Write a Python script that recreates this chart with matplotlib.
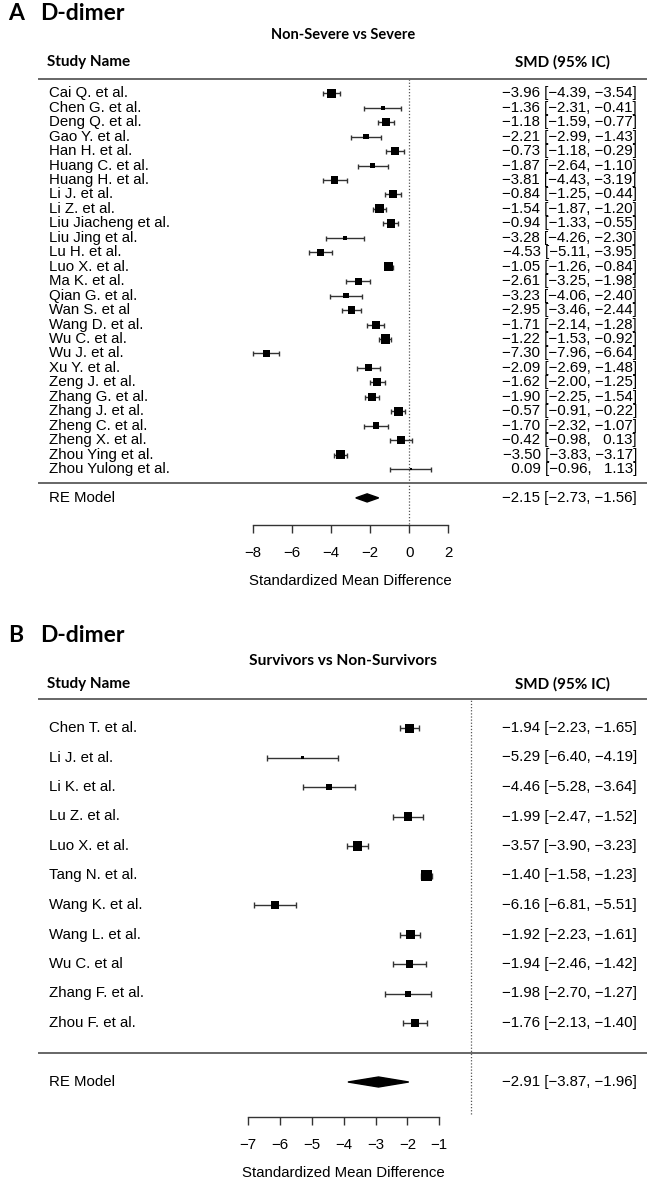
import matplotlib
matplotlib.use('Agg')
import matplotlib.pyplot as plt
from matplotlib.transforms import blended_transform_factory
import numpy as np

# ---- panel A: non-severe vs severe ----
names_a = ['Cai Q. et al.', 'Chen G. et al.', 'Deng Q. et al.', 'Gao Y. et al.',
           'Han H. et al.', 'Huang C. et al.', 'Huang H. et al.', 'Li J. et al.',
           'Li Z. et al.', 'Liu Jiacheng et al.', 'Liu Jing et al.', 'Lu H. et al.',
           'Luo X. et al.', 'Ma K. et al.', 'Qian G. et al.', 'Wan S. et al',
           'Wang D. et al.', 'Wu C. et al.', 'Wu J. et al.', 'Xu Y. et al.',
           'Zeng J. et al.', 'Zhang G. et al.', 'Zhang J. et al.', 'Zheng C. et al.',
           'Zheng X. et al.', 'Zhou Ying et al.', 'Zhou Yulong et al.']
smd_a = [-3.96, -1.36, -1.18, -2.21, -0.73, -1.87, -3.81, -0.84, -1.54, -0.94,
         -3.28, -4.53, -1.05, -2.61, -3.23, -2.95, -1.71, -1.22, -7.30, -2.09,
         -1.62, -1.90, -0.57, -1.70, -0.42, -3.50, 0.09]
lo_a = [-4.39, -2.31, -1.59, -2.99, -1.18, -2.64, -4.43, -1.25, -1.87, -1.33,
        -4.26, -5.11, -1.26, -3.25, -4.06, -3.46, -2.14, -1.53, -7.96, -2.69,
        -2.00, -2.25, -0.91, -2.32, -0.98, -3.83, -0.96]
hi_a = [-3.54, -0.41, -0.77, -1.43, -0.29, -1.10, -3.19, -0.44, -1.20, -0.55,
        -2.30, -3.95, -0.84, -1.98, -2.40, -2.44, -1.28, -0.92, -6.64, -1.48,
        -1.25, -1.54, -0.22, -1.07, 0.13, -3.17, 1.13]
# relative study weight
weight_a = [8.5, 4, 8, 5.3, 8.5, 5.3, 7.3, 8, 9, 8.5, 3.5, 7.3, 9.5, 7, 5.3, 7.5,
            8, 9.5, 7, 7, 8, 8.5, 9, 6.5, 8, 9.5, 2.5]
re_a = [-2.15, -2.73, -1.56]
ticks_a = [-8, -6, -4, -2, 0, 2]

# ---- panel B: survivors vs non-survivors ----
names_b = ['Chen T. et al.', 'Li J. et al.', 'Li K. et al.', 'Lu Z. et al.',
           'Luo X. et al.', 'Tang N. et al.', 'Wang K. et al.', 'Wang L. et al.',
           'Wu C. et al', 'Zhang F. et al.', 'Zhou F. et al.']
smd_b = [-1.94, -5.29, -4.46, -1.99, -3.57, -1.40, -6.16, -1.92, -1.94, -1.98, -1.76]
lo_b = [-2.23, -6.40, -5.28, -2.47, -3.90, -1.58, -6.81, -2.23, -2.46, -2.70, -2.13]
hi_b = [-1.65, -4.19, -3.64, -1.52, -3.23, -1.23, -5.51, -1.61, -1.42, -1.27, -1.40]
weight_b = [9, 3, 6, 8.5, 9.5, 11, 7.5, 9, 7.5, 6, 8.5]
re_b = [-2.91, -3.87, -1.96]
ticks_b = [-7, -6, -5, -4, -3, -2, -1]

W, H, DPI = 647, 1179, 100
PT = 72 / DPI
BODY = 10.8
BOLD = ['Lato', 'DejaVu Sans']
plt.rcParams['font.family'] = ['Liberation Sans', 'DejaVu Sans']

fig = plt.figure(figsize=(W / DPI, H / DPI), dpi=DPI)


def fx(px):
    return px / W


def fy(py):
    return 1 - py / H


def fmt(e, l, h):
    s = lambda v: f'{v:.2f}'.replace('-', '\u2212')
    pad = lambda v: ('  ' if v >= 0 else '') + s(v)
    return f'{pad(e)} [{s(l)}, {pad(h)}]'


def forest(names, smd, lo, hi, weight, re, ticks, x0, x1, top_row, step, axis_px,
           dia_h, cap):
    k = len(names)
    header_px = top_row - step
    yb = -1 - (axis_px - (top_row + (k + 1) * step)) / step
    ax = fig.add_axes([fx(x0), fy(axis_px), fx(x1) - fx(x0), (axis_px - header_px) / H])
    ax.set_xlim(ticks[0], ticks[-1])
    ax.set_ylim(yb, k + 1)
    ax.patch.set_visible(False)
    for sp in ['top', 'left', 'right']:
        ax.spines[sp].set_visible(False)
    ax.spines['bottom'].set_color('#333333')
    ax.spines['bottom'].set_linewidth(1.0)
    ax.set_yticks([])
    ax.set_xticks(ticks)
    ax.tick_params(axis='x', direction='out', length=7.5 * PT, width=1.0,
                   color='#333333', pad=10, labelsize=BODY)
    ax.set_xlabel('Standardized Mean Difference', fontsize=BODY, labelpad=10)

    rows = np.arange(k, 0, -1)
    smd, lo, hi = np.array(smd), np.array(lo), np.array(hi)
    ax.errorbar(smd, rows, xerr=[smd - lo, hi - smd], fmt='none', ecolor='#333333',
                elinewidth=1.0, capsize=cap, capthick=1.0, clip_on=False, zorder=2)
    ax.scatter(smd, rows, marker='s', s=(np.array(weight) * PT) ** 2, color='black',
               linewidths=0, zorder=3, clip_on=False)

    e, l, h = re
    ax.fill([l, e, h, e], [-1, -1 + dia_h, -1, -1 - dia_h], color='black',
            clip_on=False, zorder=3)

    ax.plot([0, 0], [yb + 0.1, k + 1], ls=(0, (1, 1.5)), color='#555555', lw=0.9,
            clip_on=False, zorder=1)

    tr = blended_transform_factory(fig.transFigure, ax.transData)
    for yy in [k + 1, 0]:
        ax.plot([fx(39), 1], [yy, yy], color='#666666', lw=1.4, transform=tr,
                clip_on=False)
    for i, n in enumerate(names):
        ax.text(fx(49), rows[i], n, transform=tr, ha='left', va='center', fontsize=BODY)
        ax.text(fx(637), rows[i], fmt(smd[i], lo[i], hi[i]), transform=tr,
                ha='right', va='center', fontsize=BODY)
    ax.text(fx(49), -1, 'RE Model', transform=tr, ha='left', va='center', fontsize=BODY)
    ax.text(fx(637), -1, fmt(e, l, h), transform=tr, ha='right', va='center',
            fontsize=BODY)
    return ax


def headers(letter, sub, title_py, sub_py, col_py, sub_size):
    fig.text(fx(8), fy(title_py), letter, family=BOLD, weight='bold', fontsize=16.5,
             ha='left', va='center')
    fig.text(fx(40), fy(title_py), 'D-dimer', family=BOLD, weight='bold', fontsize=16.5,
             ha='left', va='center')
    fig.text(fx(343), fy(sub_py), sub, family=BOLD, weight='bold', fontsize=sub_size,
             ha='center', va='center')
    fig.text(fx(47), fy(col_py), 'Study Name', family=BOLD, weight='bold',
             fontsize=11, ha='left', va='center')
    fig.text(fx(610), fy(col_py), 'SMD (95% IC)', family=BOLD, weight='bold',
             fontsize=11, ha='right', va='center')


headers('A', 'Non-Severe vs Severe', 14, 35, 62, 10.5)
forest(names_a, smd_a, lo_a, hi_a, weight_a, re_a, ticks_a, 252.7, 448.3,
       93.3, 14.45, 525, 0.28, 1.8)

headers('B', 'Survivors vs Non-Survivors', 636, 661, 684, 11.2)
forest(names_b, smd_b, lo_b, hi_b, weight_b, re_b, ticks_b, 248.3, 439.3,
       728, 29.5, 1116.7, 0.17, 2.2)

fig.savefig('out.png', dpi=DPI)
